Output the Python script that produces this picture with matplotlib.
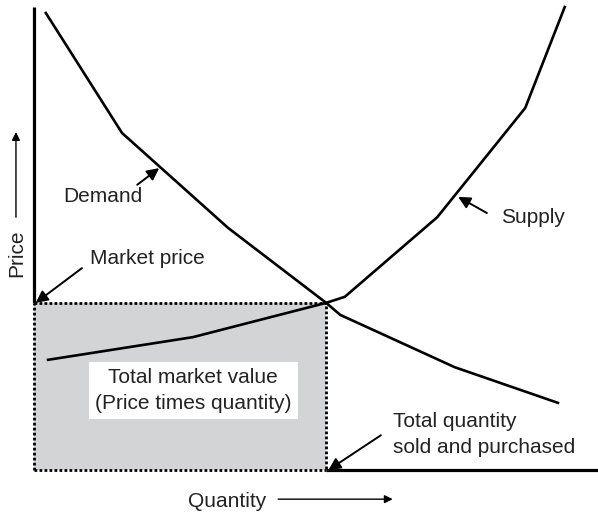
import matplotlib
matplotlib.use("Agg")
import matplotlib.pyplot as plt
from matplotlib.patches import Rectangle

plt.rcParams['font.family'] = ['Liberation Sans', 'DejaVu Sans']

# Values (quantity and price both on a 0-100 scale)
demand_q = [2.1, 15.6, 34.4, 51.8, 54.3, 74.6, 92.9]
demand_p = [98.7, 72.8, 52.3, 36.1, 33.5, 22.2, 14.5]
supply_q = [2.5, 28.2, 51.8, 55.1, 71.5, 87.1, 94.1]
supply_p = [23.8, 28.7, 36.1, 37.4, 54.6, 78.2, 100.0]
q_eq = 51.8
p_eq = 36.1

fig = plt.figure(figsize=(5.98, 5.13), dpi=100)
ax = fig.add_axes([34 / 598, 43 / 513, 564 / 598, 463 / 513])
ax.set_xlim(0, 100)
ax.set_ylim(0, 100)
ax.axis('off')

# shaded market value box with dotted border
ax.add_patch(Rectangle((0, 0), q_eq, p_eq, facecolor='#d3d4d6', edgecolor='none', zorder=1))
ax.plot([0, q_eq, q_eq], [p_eq, p_eq, 0], color='black', lw=2, ls=(0, (1, 0.8)), zorder=2, clip_on=False)
ax.plot([0, q_eq], [0, 0], color='black', lw=2, ls=(0, (1, 0.8)), zorder=2, clip_on=False)
ax.plot([0, 0], [0, p_eq], color='black', lw=2, ls=(0, (1, 0.8)), zorder=2, clip_on=False)

# axis lines
ax.plot([0, 0], [p_eq, 100], color='black', lw=2.3, clip_on=False, zorder=3, solid_capstyle='butt')
ax.plot([q_eq, 100], [0, 0], color='black', lw=2.3, clip_on=False, zorder=3, solid_capstyle='butt')

# curves
ax.plot(demand_q, demand_p, color='black', lw=1.9, zorder=4, clip_on=False)
ax.plot(supply_q, supply_p, color='black', lw=1.9, zorder=4, clip_on=False)

fs = 15
arrow = dict(arrowstyle='-|>', color='black', lw=1.4, mutation_scale=18, shrinkA=0, shrinkB=0)

ax.annotate('', xy=(22.2, 65.2), xytext=(18.3, 61.6), arrowprops=arrow)
ax.text(5.1, 57.9, 'Demand', fontsize=fs, ha='left', va='baseline', color='#222222')

ax.annotate('', xy=(75.2, 59.0), xytext=(80.3, 55.5), arrowprops=arrow)
ax.text(82.8, 53.3, 'Supply', fontsize=fs, ha='left', va='baseline', color='#222222')

ax.annotate('', xy=(0.3, p_eq), xytext=(8.5, 43.6), arrowprops=arrow)
ax.text(9.9, 44.5, 'Market price', fontsize=fs, ha='left', va='baseline', color='#222222')

# multi-line texts: y is the baseline of the last line
ax.annotate('', xy=(q_eq + 0.4, 0), xytext=(61.5, 7.5), arrowprops=arrow)
ax.text(63.7, 3.7, 'Total quantity\nsold and purchased', fontsize=fs, ha='left',
        va='baseline', linespacing=1.45, color='#222222')

ax.text(28.2, 13.2, 'Total market value\n(Price times quantity)', fontsize=fs, ha='center',
        va='baseline', linespacing=1.45, color='#222222', zorder=5,
        bbox=dict(boxstyle='square,pad=0.3', facecolor='white', edgecolor='none'))

# axis titles with arrows
thin = dict(arrowstyle='-|>', color='black', lw=1.0, mutation_scale=12, shrinkA=0, shrinkB=0)
ax.text(27.3, -8.0, 'Quantity', fontsize=fs, ha='left', va='baseline', color='#222222', clip_on=False)
ax.annotate('', xy=(63.6, -6.3), xytext=(43.3, -6.3), arrowprops=thin, annotation_clip=False)
ax.text(-3.0, 46.8, 'Price', fontsize=fs, rotation=90, ha='center', va='center', color='#222222', clip_on=False)
ax.annotate('', xy=(-3.2, 73.0), xytext=(-3.2, 54.6), arrowprops=thin, annotation_clip=False)

fig.savefig('out.png', dpi=100)
